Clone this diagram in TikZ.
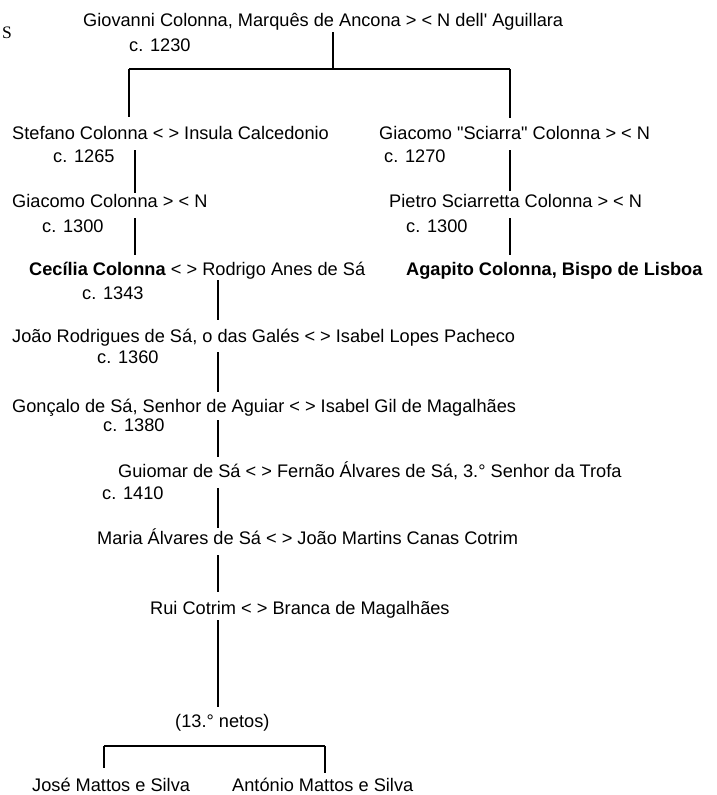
\documentclass[tikz,border=0pt]{standalone}
\usepackage{fontspec}
\setmainfont{Liberation Sans}
\newfontfamily\serifletter{Liberation Serif}
\usetikzlibrary{positioning}

\tikzset{
  person/.style={anchor=west, inner sep=0pt, text height=13pt, text depth=4pt,
    font=\fontsize{18.2}{22}\selectfont},
  link/.style={line width=1.3pt},
}

\begin{document}
\begin{tikzpicture}[x=1pt, y=-1pt]
    \useasboundingbox (0,0) rectangle (716,795);

    % Stray letter
    \node[anchor=west, inner sep=0pt, font=\serifletter\fontsize{17.5}{20}\selectfont] (stray) at (2,33) {S};

    % Colonna generations
    \node[person] (giovanni) at (83,22) {Giovanni Colonna, Marquês de Ancona > < N dell\textquotesingle{} Aguillara};
    \node[person] (d1230) at (129,47) {c. 1230};
    \node[person] (stefano) at (12,135) {Stefano Colonna < > Insula Calcedonio};
    \node[person] (d1265) at (53,158) {c. 1265};
    \node[person] (giacomo) at (12,203) {Giacomo Colonna > < N};
    \node[person] (d1300a) at (42,228) {c. 1300};
    \node[person] (cecilia) at (29,271) {\textbf{Cecília Colonna} < > Rodrigo Anes de Sá};
    \node[person] (d1343) at (82,295) {c. 1343};
    \node[person] (sciarra) at (379,135) {Giacomo \textquotedbl Sciarra\textquotedbl{} Colonna > < N};
    \node[person] (d1270) at (384,158) {c. 1270};
    \node[person] (pietro) at (389,203) {Pietro Sciarretta Colonna > < N};
    \node[person] (d1300b) at (406,228) {c. 1300};
    \node[person] (agapito) at (406,271) {\textbf{Agapito Colonna, Bispo de Lisboa}};

    % Sá and Cotrim generations
    \node[person] (joao) at (12,338) {João Rodrigues de Sá, o das Galés < > Isabel Lopes Pacheco};
    \node[person] (d1360) at (97,359) {c. 1360};
    \node[person] (goncalo) at (12,408) {Gonçalo de Sá, Senhor de Aguiar < > Isabel Gil de Magalhães};
    \node[person] (d1380) at (103,427) {c. 1380};
    \node[person] (guiomar) at (118,473) {Guiomar de Sá < > Fernão Álvares de Sá, 3.° Senhor da Trofa};
    \node[person] (d1410) at (102,495) {c. 1410};
    \node[person] (maria) at (97,540) {Maria Álvares de Sá < > João Martins Canas Cotrim};
    \node[person] (rui) at (150,610) {Rui Cotrim < > Branca de Magalhães};
    \node[person] (netos) at (175,723) {(13.° netos)};
    \node[person] (jose) at (32,787) {José Mattos e Silva};
    \node[person] (antonio) at (232,787) {António Mattos e Silva};

    % Line positions
    \coordinate (fork) at (333,69);
    \coordinate (forkL) at (129,69);
    \coordinate (forkR) at (510,69);
    \coordinate (lline) at (135,0);
    \coordinate (rline) at (510,0);
    \coordinate (spine) at (218,0);
    \coordinate (netL) at (104,746);
    \coordinate (netR) at (325,746);

    % Top fork
    \draw[link, shorten <=1.5pt] (giovanni.south -| fork) -- (fork);
    \draw[link] (forkL) -- (forkR);
    \draw[link, shorten >=9.5pt] (forkL) -- (stefano.north -| forkL);
    \draw[link, shorten >=8.5pt] (forkR) -- (sciarra.north -| forkR);

    % Left branch
    \draw[link, shorten <=6.5pt, shorten >=1.5pt] (stefano.south -| lline) -- (giacomo.north -| lline);
    \draw[link, shorten <=6.5pt, shorten >=7.5pt] (giacomo.south -| lline) -- (cecilia.north -| lline);

    % Right branch
    \draw[link, shorten <=6.5pt, shorten >=3.5pt] (sciarra.south -| rline) -- (pietro.north -| rline);
    \draw[link, shorten <=6.5pt, shorten >=7.5pt] (pietro.south -| rline) -- (agapito.north -| rline);

    % Main line
    \draw[link, shorten <=0.5pt, shorten >=9.5pt] (cecilia.south -| spine) -- (joao.north -| spine);
    \draw[link, shorten <=5.5pt, shorten >=7.5pt] (joao.south -| spine) -- (goncalo.north -| spine);
    \draw[link, shorten <=3.5pt, shorten >=7.5pt] (goncalo.south -| spine) -- (guiomar.north -| spine);
    \draw[link, shorten <=6.5pt, shorten >=3.5pt] (guiomar.south -| spine) -- (maria.north -| spine);
    \draw[link, shorten <=6.5pt, shorten >=9.5pt] (maria.south -| spine) -- (rui.north -| spine);
    \draw[link, shorten <=1.5pt, shorten >=7.5pt] (rui.south -| spine) -- (netos.north -| spine);

    % Bottom fork
    \draw[link] (netL) -- (netR);
    \draw[link, shorten >=10.5pt] (netL) -- (jose.north -| netL);
    \draw[link, shorten >=5.5pt] (netR) -- (antonio.north -| netR);
\end{tikzpicture}
\end{document}
